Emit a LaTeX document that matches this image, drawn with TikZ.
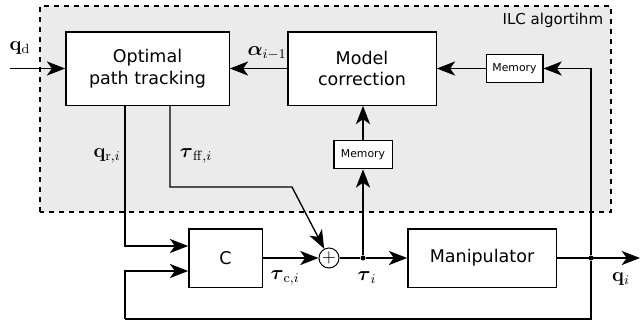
\documentclass[tikz,border=0pt]{standalone}
\usepackage{amsmath,amssymb}
\usepackage[no-math]{fontspec}
\setmainfont{DejaVu Sans}
\usetikzlibrary{arrows.meta}

\tikzset{
  block/.style={draw, fill=white, line width=0.8pt, align=center, inner sep=0pt},
  memblock/.style={block, font=\fontsize{6.5}{8}\selectfont},
  sig/.style={line width=0.8pt, -{Stealth[length=11pt,width=8.5pt,inset=3pt]}},
  wire/.style={line width=0.8pt},
  joint/.style={circle, fill, inner sep=0pt, minimum size=3pt},
  lbl/.style={font=\fontsize{12}{14}\selectfont},
}

\begin{document}
\begin{tikzpicture}[x=0.6pt, y=0.6pt, font=\fontsize{10.5}{13}\selectfont]
        \useasboundingbox (0,0) rectangle (640,324);
        % ILC region
        \draw[dashed, line width=0.8pt, fill=black!8] (40,112) rectangle (611,318);
        \node[anchor=north east, font=\fontsize{9}{11}\selectfont] (ilc) at (609,317) {ILC algortihm};

        % Blocks
        \node[block, minimum width=98pt, minimum height=44pt] (opt) at (147.5,255.5) {Optimal\\path tracking};
        \node[block, minimum width=89pt, minimum height=44pt] (model) at (362,255.5) {Model\\correction};
        \node[memblock, minimum width=34pt, minimum height=17pt] (memA) at (514.5,255.5) {Memory};
        \node[memblock, minimum width=35pt, minimum height=17pt] (memB) at (363,169.5) {Memory};
        \node[block, minimum width=44pt, minimum height=35pt] (ctrl) at (225.5,66) {C};
        \node[block, minimum width=89pt, minimum height=35pt] (manip) at (482,66) {Manipulator};
        \node[circle, draw, fill=white, line width=0.6pt, minimum size=12pt, inner sep=0pt] (sum) at (329,66) {$+$};

        % Junctions and free ends
        \node[joint] (jtau) at (363,66) {};
        \node[joint] (jq) at (591,66) {};
        \coordinate (qdin) at (10,255.5);
        \coordinate (qout) at (640,66);
        \coordinate (fbl) at (125,5);
        \coordinate (ffcorner) at (170,137);
        \coordinate (ffbend) at (292,137);
        \coordinate (ctrlin1) at ([yshift=7.2pt]ctrl.west);
        \coordinate (ctrlin2) at ([yshift=-7.8pt]ctrl.west);

        % Signals
        \draw[sig] (qdin) -- (opt);
        \draw[sig] (model) -- (opt);
        \draw[sig] (memA) -- (model);
        \draw[sig] (jq) |- (memA);
        \draw[sig] (jtau) -- (memB);
        \draw[sig] (memB.north) -- (memB.north |- model.south);
        \draw[sig] (opt.south -| fbl) |- (ctrlin1);
        \draw[sig] (opt.south -| ffcorner) -- (ffcorner) -- (ffbend) -- (sum);
        \draw[sig] (ctrl) -- (sum);
        \draw[wire] (sum) -- (jtau);
        \draw[sig] (jtau) -- (manip);
        \draw[sig] (manip) -- (qout);
        \draw[wire] (jq) |- (fbl);
        \draw[sig] (fbl) |- (ctrlin2);

        % Labels
        \node[lbl] (lqd) at (20,276) {$\mathbf{q}_\mathrm{d}$};
        \node[lbl] (lalpha) at (267,271) {$\boldsymbol{\alpha}_{i-1}$};
        \node[lbl] (lqr) at (107,168) {$\mathbf{q}_{\mathrm{r},i}$};
        \node[lbl] (ltff) at (196,168) {$\boldsymbol{\tau}_{\mathrm{ff},i}$};
        \node[lbl] (ltc) at (285,46) {$\boldsymbol{\tau}_{\mathrm{c},i}$};
        \node[lbl] (lti) at (367,46) {$\boldsymbol{\tau}_i$};
        \node[lbl] (lqi) at (621,45) {$\mathbf{q}_i$};
\end{tikzpicture}
\end{document}
